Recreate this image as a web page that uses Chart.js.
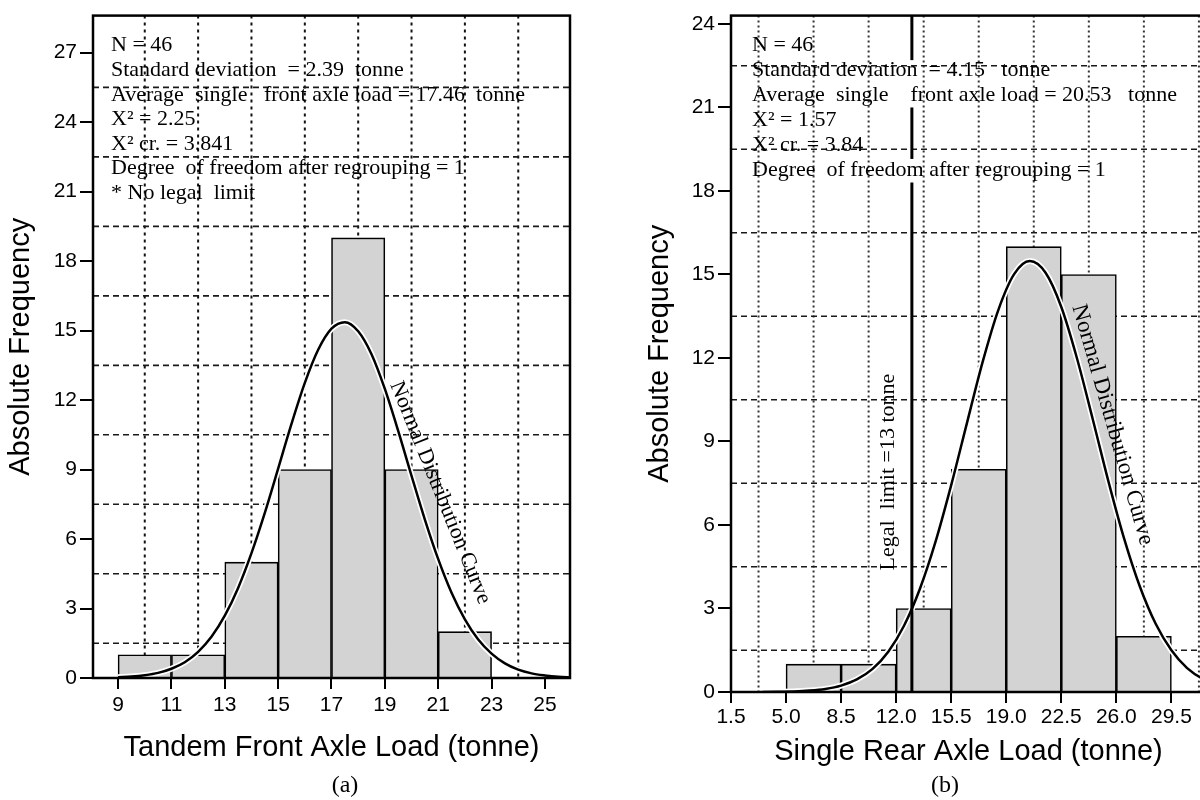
<!DOCTYPE html>
<html lang="en">
<head>
<meta charset="UTF-8">
<title>Axle load histograms</title>
<script src="https://cdn.jsdelivr.net/npm/chart.js"></script>
<style>
  html, body { margin: 0; padding: 0; background: #fff; width: 1200px; height: 800px; overflow: hidden; }
  #left { position: absolute; left: 0; top: 0; }
  #right { position: absolute; left: 600px; top: 0; }
</style>
</head>
<body>
<canvas id="left" width="600" height="800"></canvas>
<canvas id="right" width="620" height="800"></canvas>
<script>
// ---- (a) tandem front axle ----
const aEdges = [9, 11, 13, 15, 17, 19, 21, 23];
const aCounts = [1, 1, 5, 9, 19, 9, 2];
const aCurveX = [9, 9.5, 10, 10.5, 11, 11.5, 12, 12.5, 13, 13.5, 14, 14.5, 15, 15.5, 16, 16.5, 17, 17.5,
                 18, 18.5, 19, 19.5, 20, 20.5, 21, 21.5, 22, 22.5, 23, 23.5, 24, 24.5, 25, 25.5, 26];
const aCurveY = [0.03, 0.06, 0.12, 0.22, 0.40, 0.68, 1.13, 1.78, 2.69, 3.89, 5.39, 7.13, 9.04, 10.97, 12.74, 14.17, 15.08, 15.36,
                 14.97, 13.98, 12.48, 10.67, 8.73, 6.84, 5.13, 3.68, 2.53, 1.66, 1.05, 0.63, 0.36, 0.20, 0.11, 0.05, 0.02];
const aTicksX = [9, 11, 13, 15, 17, 19, 21, 23, 25];
const aTicksY = [0, 3, 6, 9, 12, 15, 18, 21, 24, 27];
const aGridX = [10, 12, 14, 16, 18, 20, 22, 24];
const aGridY = [1.5, 4.5, 7.5, 10.5, 13.5, 16.5, 19.5, 22.5, 25.5];
const aNotes = [
  'N = 46',
  'Standard deviation  = 2.39  tonne',
  'Average  single   front axle load = 17.46  tonne',
  'X\u00b2 = 2.25',
  'X\u00b2 cr. = 3.841',
  'Degree  of freedom after regrouping = 1',
  '* No legal  limit'
];

// ---- (b) single rear axle ----
const bEdges = [5.0, 8.5, 12.0, 15.5, 19.0, 22.5, 26.0, 29.5];
const bCounts = [1, 1, 3, 8, 16, 15, 2];
const bCurveX = [3.5, 4.5, 5.5, 6.5, 7.5, 8.5, 9.5, 10.5, 11.5, 12.5, 13.5, 14.5, 15.5, 16.5, 17.5, 18.5,
                 19.5, 20.5, 21.5, 22.5, 23.5, 24.5, 25.5, 26.5, 27.5, 28.5, 29.5, 30.5, 31.5, 32.5];
const bCurveY = [0.00, 0.01, 0.02, 0.05, 0.11, 0.23, 0.45, 0.83, 1.45, 2.38, 3.69, 5.39, 7.43, 9.66, 11.86, 13.73,
                 15.01, 15.48, 15.06, 13.83, 11.98, 9.80, 7.56, 5.50, 3.78, 2.45, 1.50, 0.86, 0.47, 0.24];
const bTicksX = [1.5, 5.0, 8.5, 12.0, 15.5, 19.0, 22.5, 26.0, 29.5];
const bTicksY = [0, 3, 6, 9, 12, 15, 18, 21, 24];
const bGridX = [3.25, 6.75, 10.25, 13.75, 17.25, 20.75, 24.25, 27.75, 31.25];
const bGridY = [1.5, 4.5, 7.5, 10.5, 13.5, 16.5, 19.5, 22.5];
const bLimit = 13;
const bLimitGaps = [[18.3, 19.15], [21.0, 22.7]];
const bNotes = [
  'N = 46',
  'Standard deviation  = 4.15   tonne',
  'Average  single    front axle load = 20.53   tonne',
  'X\u00b2 = 1.57',
  'X\u00b2 cr. = 3.84',
  'Degree  of freedom after regrouping = 1'
];

const serif = '"Liberation Serif", "Times New Roman", serif';
const sans = '"Liberation Sans", Arial, sans-serif';

function rotText(ctx, txt, px, py, deg, size) {
  ctx.save();
  ctx.translate(px, py);
  ctx.rotate(deg * Math.PI / 180);
  ctx.font = size + 'px ' + serif;
  ctx.textAlign = 'center';
  ctx.textBaseline = 'middle';
  ctx.fillText(txt, 0, 0);
  ctx.restore();
}

function makePanel(c) {
  return {
    id: 'panel',
    beforeDatasetsDraw(chart) {
      const {ctx, chartArea: a, scales: {x, y}} = chart;
      ctx.save();
      ctx.beginPath();
      ctx.rect(a.left, a.top, a.right - a.left, a.bottom - a.top);
      ctx.clip();
      ctx.strokeStyle = c.vColor;
      ctx.lineWidth = 2;
      ctx.setLineDash(c.vDash);
      c.gridX.forEach(v => {
        const px = x.getPixelForValue(v);
        ctx.beginPath(); ctx.moveTo(px, a.top); ctx.lineTo(px, a.bottom); ctx.stroke();
      });
      ctx.strokeStyle = '#1a1a1a';
      ctx.lineWidth = 1.6;
      ctx.setLineDash([6, 4]);
      c.gridY.forEach(v => {
        const py = y.getPixelForValue(v);
        ctx.beginPath(); ctx.moveTo(a.left, py); ctx.lineTo(a.right, py); ctx.stroke();
      });
      ctx.restore();
    },
    afterDatasetsDraw(chart) {
      const {ctx, chartArea: a, scales: {x, y}} = chart;
      ctx.save();
      ctx.fillStyle = '#000';
      ctx.strokeStyle = '#000';
      // legal limit line, broken where the text crosses it
      if (c.limit !== undefined) {
        const px = x.getPixelForValue(c.limit);
        let from = 0;
        const segs = [];
        c.limitGaps.forEach(g => { segs.push([from, g[0]]); from = g[1]; });
        segs.push([from, c.yMax]);
        ctx.lineWidth = 3;
        segs.forEach(s => {
          ctx.beginPath();
          ctx.moveTo(px, y.getPixelForValue(s[0]));
          ctx.lineTo(px, y.getPixelForValue(s[1]));
          ctx.stroke();
        });
      }
      // plot frame
      ctx.lineWidth = 2.5;
      ctx.strokeRect(a.left, a.top, a.right - a.left, a.bottom - a.top);
      // statistics block
      ctx.font = c.noteSize + 'px ' + serif;
      ctx.textAlign = 'left';
      ctx.textBaseline = 'middle';
      c.notes.forEach((t, i) => ctx.fillText(t, a.left + c.noteX, a.top + c.noteY + i * c.noteDy));
      // rotated labels
      c.labels.forEach(l => rotText(ctx, l.text, x.getPixelForValue(l.x), y.getPixelForValue(l.y), l.angle, l.size));
      // caption
      ctx.font = '24px ' + serif;
      ctx.textAlign = 'center';
      ctx.fillText(c.caption, c.capX, 786);
      ctx.restore();
    }
  };
}

function makeChart(id, c) {
  const curve = c.curveX.map((v, i) => ({x: v, y: c.curveY[i]}));
  const bars = c.counts.map((v, i) => ({x: (c.edges[i] + c.edges[i + 1]) / 2, y: v}));
  const tickFont = {family: sans, size: 21};
  const titleFont = {family: sans, size: 29};
  return new Chart(document.getElementById(id), {
    type: 'bar',
    data: {
      datasets: [
        {type: 'line', data: curve, borderColor: '#000', borderWidth: 2.5, pointRadius: 0,
         cubicInterpolationMode: 'monotone', order: 0},
        {type: 'line', data: curve, borderColor: '#fff', borderWidth: 6, pointRadius: 0,
         cubicInterpolationMode: 'monotone', order: 1},
        {type: 'bar', data: bars, backgroundColor: '#d3d3d3', borderColor: '#000', borderWidth: 1.6,
         barPercentage: 1, categoryPercentage: 1, order: 2}
      ]
    },
    options: {
      responsive: false,
      animation: false,
      events: [],
      layout: {padding: c.pad},
      plugins: {legend: {display: false}, tooltip: {enabled: false}},
      scales: {
        x: {
          type: 'linear', offset: false, min: c.xMin, max: c.xMax,
          afterBuildTicks: s => { s.ticks = c.ticksX.map(v => ({value: v})); },
          afterFit: s => { s.height = c.xH; },
          ticks: {font: tickFont, color: '#000', autoSkip: false, maxRotation: 0, padding: c.xTickPad,
                  callback: v => c.fmtX(v)},
          grid: {drawOnChartArea: false, offset: false, color: '#000', lineWidth: 2, tickLength: 11},
          border: {display: false},
          title: {display: true, text: c.xTitle, font: titleFont, color: '#000', padding: {top: 0, bottom: c.xTitlePad}}
        },
        y: {
          type: 'linear', min: 0, max: c.yMax,
          afterBuildTicks: s => { s.ticks = c.ticksY.map(v => ({value: v})); },
          afterFit: s => { s.width = c.yW; },
          ticks: {font: tickFont, color: '#000', autoSkip: false, padding: 3},
          grid: {drawOnChartArea: false, color: '#000', lineWidth: 2, tickLength: 13},
          border: {display: false},
          title: {display: true, text: 'Absolute Frequency', font: titleFont, color: '#000', padding: {top: c.yTitlePad, bottom: 0}}
        }
      }
    },
    plugins: [makePanel(c)]
  });
}

makeChart('left', {
  edges: aEdges, counts: aCounts, curveX: aCurveX, curveY: aCurveY,
  ticksX: aTicksX, ticksY: aTicksY, gridX: aGridX, gridY: aGridY,
  xMin: 8.06, xMax: 25.94, yMax: 28.6,
  pad: {left: 0, top: 10, right: 30, bottom: 0}, xH: 122, yW: 93,
  xTitle: 'Tandem Front Axle Load (tonne)', xTitlePad: 35, yTitlePad: 4, xTickPad: 4,
  fmtX: v => String(v),
  vColor: '#111', vDash: [3, 4],
  notes: aNotes, noteSize: 22, noteX: 18, noteY: 30, noteDy: 24.6,
  labels: [{text: 'Normal Distribution Curve', x: 21.07, y: 8.0, angle: 68, size: 22}],
  caption: '(a)', capX: 345
});

makeChart('right', {
  edges: bEdges, counts: bCounts, curveX: bCurveX, curveY: bCurveY,
  ticksX: bTicksX, ticksY: bTicksY, gridX: bGridX, gridY: bGridY,
  xMin: 1.5, xMax: 31.7, yMax: 24.3,
  pad: {left: 0, top: 7, right: 14, bottom: 0}, xH: 108, yW: 131,
  xTitle: 'Single Rear Axle Load (tonne)', xTitlePad: 31, yTitlePad: 43, xTickPad: 2,
  fmtX: v => v.toFixed(1),
  vColor: '#333', vDash: [2, 3],
  limit: bLimit, limitGaps: bLimitGaps,
  notes: bNotes, noteSize: 22, noteX: 21, noteY: 30, noteDy: 25,
  labels: [
    {text: 'Normal Distribution Curve', x: 25.75, y: 9.6, angle: 74, size: 23},
    {text: 'Legal  limit =13 tonne', x: 11.5, y: 7.9, angle: -90, size: 22}
  ],
  caption: '(b)', capX: 345
});
</script>
</body>
</html>
